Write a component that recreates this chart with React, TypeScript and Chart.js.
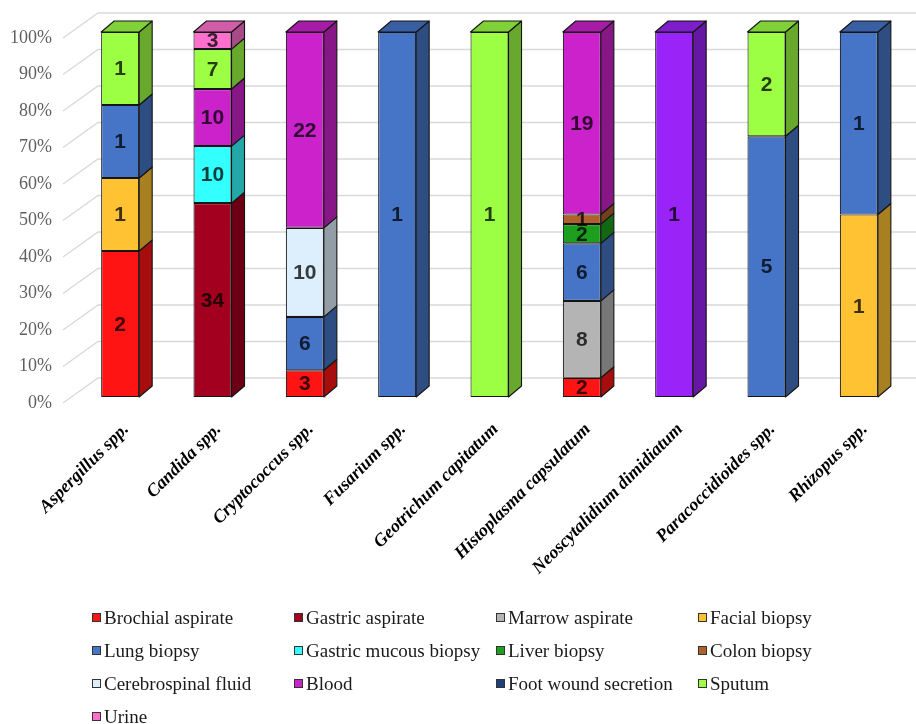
import React, { useEffect, useRef } from "react";
import { Chart, registerables } from "chart.js";

Chart.register(...registerables);

const species = [
  "Aspergillus spp.",
  "Candida spp.",
  "Cryptococcus spp.",
  "Fusarium spp.",
  "Geotrichum capitatum",
  "Histoplasma capsulatum",
  "Neoscytalidium dimidiatum",
  "Paracoccidioides spp.",
  "Rhizopus spp.",
];

const sources = [
  "Brochial aspirate",
  "Gastric aspirate",
  "Marrow aspirate",
  "Facial biopsy",
  "Lung biopsy",
  "Gastric mucous biopsy",
  "Liver biopsy",
  "Colon biopsy",
  "Cerebrospinal fluid",
  "Blood",
  "Foot wound secretion",
  "Sputum",
  "Urine",
];

const sourceColors = [
  "#FF1414",
  "#A2001E",
  "#B4B4B4",
  "#FFC233",
  "#4674C6",
  "#33FFFF",
  "#1E9E1E",
  "#B0602A",
  "#DDEEFC",
  "#CC22CC",
  "#203E78",
  "#9CFF44",
  "#FF70CC",
];

// counts per sample source, one value per species (same order as `species`)
const brochialAspirate = [2, 0, 3, 0, 0, 2, 0, 0, 0];
const gastricAspirate = [0, 34, 0, 0, 0, 0, 0, 0, 0];
const marrowAspirate = [0, 0, 0, 0, 0, 8, 0, 0, 0];
const facialBiopsy = [1, 0, 0, 0, 0, 0, 0, 0, 1];
const lungBiopsy = [1, 0, 6, 1, 0, 6, 0, 5, 1];
const gastricMucousBiopsy = [0, 10, 0, 0, 0, 0, 0, 0, 0];
const liverBiopsy = [0, 0, 0, 0, 0, 2, 0, 0, 0];
const colonBiopsy = [0, 0, 0, 0, 0, 1, 0, 0, 0];
const cerebrospinalFluid = [0, 0, 10, 0, 0, 0, 0, 0, 0];
const blood = [0, 10, 22, 0, 0, 19, 0, 0, 0];
const footWoundSecretion = [0, 0, 0, 0, 0, 0, 1, 0, 0];
const sputum = [1, 7, 0, 0, 1, 0, 0, 2, 0];
const urine = [0, 3, 0, 0, 0, 0, 0, 0, 0];

// the Neoscytalidium bar is drawn in a purple not listed in the legend
const barColorOverrides: Record<string, string> = { "10-6": "#9A24F8" };

const counts = [
  brochialAspirate,
  gastricAspirate,
  marrowAspirate,
  facialBiopsy,
  lungBiopsy,
  gastricMucousBiopsy,
  liverBiopsy,
  colonBiopsy,
  cerebrospinalFluid,
  blood,
  footWoundSecretion,
  sputum,
  urine,
];

const DEPTH_X = 13;
const DEPTH_Y = -11;
const FRONT_SHIFT = -6;

function shade(hex: string, f: number): string {
  const n = parseInt(hex.slice(1), 16);
  const r = Math.round(((n >> 16) & 255) * f);
  const g = Math.round(((n >> 8) & 255) * f);
  const b = Math.round((n & 255) * f);
  return `rgb(${r},${g},${b})`;
}

function colorFor(d: number, i: number): string {
  return barColorOverrides[`${d}-${i}`] || sourceColors[d];
}

const bar3dPlugin = {
  id: "bar3d",
  beforeDatasetsDraw(chart: any) {
    const { ctx, chartArea } = chart;
    const y = chart.scales.y;
    ctx.save();
    ctx.strokeStyle = "#d9d9d9";
    ctx.lineWidth = 1.3;
    y.ticks.forEach((t: any) => {
      const py = y.getPixelForValue(t.value);
      ctx.beginPath();
      ctx.moveTo(chartArea.left - 11, py);
      ctx.lineTo(chartArea.left + 24, py - 25);
      ctx.lineTo(chart.width, py - 25);
      ctx.stroke();
    });
    ctx.restore();
    ctx.save();
    ctx.translate(0, FRONT_SHIFT);
  },
  afterDatasetsDraw(chart: any) {
    const { ctx } = chart;
    const nCat = chart.data.labels.length;
    const nDs = chart.data.datasets.length;
    ctx.lineWidth = 1.1;
    ctx.strokeStyle = "#151515";
    ctx.lineJoin = "round";
    for (let i = 0; i < nCat; i++) {
      let topDs = -1;
      for (let d = 0; d < nDs; d++) if (chart.data.datasets[d].data[i] != null) topDs = d;
      for (let d = 0; d < nDs; d++) {
        if (chart.data.datasets[d].data[i] == null) continue;
        const el = chart.getDatasetMeta(d).data[i];
        const p = el.getProps(["x", "y", "base", "width"], true);
        const left = p.x - p.width / 2;
        const right = p.x + p.width / 2;
        const top = Math.min(p.y, p.base);
        const bottom = Math.max(p.y, p.base);
        const c = colorFor(d, i);
        ctx.beginPath();
        ctx.moveTo(right, top);
        ctx.lineTo(right + DEPTH_X, top + DEPTH_Y);
        ctx.lineTo(right + DEPTH_X, bottom + DEPTH_Y);
        ctx.lineTo(right, bottom);
        ctx.closePath();
        ctx.fillStyle = shade(c, 0.66);
        ctx.fill();
        ctx.stroke();
        if (d === topDs) {
          ctx.beginPath();
          ctx.moveTo(left, top);
          ctx.lineTo(left + DEPTH_X, top + DEPTH_Y);
          ctx.lineTo(right + DEPTH_X, top + DEPTH_Y);
          ctx.lineTo(right, top);
          ctx.closePath();
          ctx.fillStyle = shade(c, 0.82);
          ctx.fill();
          ctx.stroke();
        }
      }
    }
    ctx.font = "bold 21px 'Liberation Sans', Arial, sans-serif";
    ctx.textAlign = "center";
    ctx.textBaseline = "middle";
    ctx.fillStyle = "rgba(0,0,0,0.76)";
    for (let d = 0; d < nDs; d++) {
      const meta = chart.getDatasetMeta(d);
      meta.data.forEach((el: any, i: number) => {
        if (chart.data.datasets[d].data[i] == null) return;
        const p = el.getProps(["x", "y", "base"], true);
        ctx.fillText(String(counts[d][i]), p.x, (p.y + p.base) / 2 + 1);
      });
    }
    ctx.restore();
  },
  afterDraw(chart: any) {
    const { ctx } = chart;
    const colX0 = 92;
    const colW = 202;
    const rowY0 = 618;
    const rowH = 33;
    ctx.save();
    ctx.font = "19px 'Liberation Serif', 'Times New Roman', serif";
    ctx.textAlign = "left";
    ctx.textBaseline = "middle";
    chart.data.datasets.forEach((ds: any, k: number) => {
      const col = k % 4;
      const row = Math.floor(k / 4);
      const x = colX0 + col * colW;
      const y = rowY0 + row * rowH;
      ctx.fillStyle = sourceColors[k];
      ctx.fillRect(x, y - 5, 9, 9);
      ctx.strokeStyle = "#333";
      ctx.lineWidth = 1;
      ctx.strokeRect(x + 0.5, y - 4.5, 8, 8);
      ctx.fillStyle = "#1a1a1a";
      ctx.fillText(ds.label, x + 12, y + 1);
    });
    ctx.restore();
  },
};

export default function App() {
  const ref = useRef<HTMLCanvasElement | null>(null);

  useEffect(() => {
    document.body.style.margin = "0";
    const totals = species.map((_, i) => counts.reduce((s, arr) => s + arr[i], 0));
    const datasets = sources.map((label, d) => ({
      label,
      data: counts[d].map((v, i) => (v > 0 ? (v / totals[i]) * 100 : null)),
      backgroundColor: (c: any) =>
        c.type === "data" ? colorFor(d, c.dataIndex) : sourceColors[d],
      borderColor: "#151515",
      borderWidth: 1.1,
      borderSkipped: false,
      clip: false as any,
    }));
    const chart = new Chart(ref.current as HTMLCanvasElement, {
      type: "bar",
      data: { labels: species, datasets },
      options: {
        animation: false,
        responsive: false,
        layout: { padding: { top: 38, right: 11, left: 0, bottom: 0 } },
        datasets: { bar: { categoryPercentage: 1, barPercentage: 0.412 } },
        plugins: { legend: { display: false }, tooltip: { enabled: false } },
        scales: {
          x: {
            stacked: true,
            grid: { display: false },
            border: { display: false },
            ticks: {
              autoSkip: false,
              maxRotation: 45,
              minRotation: 45,
              padding: 8,
              labelOffset: 6,
              color: "#000",
              font: { family: "'Liberation Serif', 'Times New Roman', serif", size: 18, weight: "bold", style: "italic" },
            },
            afterFit(scale: any) {
              scale.height = 321;
            },
          },
          y: {
            stacked: true,
            min: 0,
            max: 100,
            grid: { display: false },
            border: { display: false },
            ticks: {
              stepSize: 10,
              padding: 14,
              color: "#5f5f5f",
              font: { family: "'Liberation Serif', 'Times New Roman', serif", size: 18 },
              callback: (v: any) => `${v}%`,
            },
            afterFit(scale: any) {
              scale.width = 74;
            },
          },
        },
      },
      plugins: [bar3dPlugin],
    });
    return () => chart.destroy();
  }, []);

  return (
    <div style={{ width: 916, height: 724, background: "#fff" }}>
      <canvas ref={ref} width={916} height={724} style={{ display: "block" }} />
    </div>
  );
}
